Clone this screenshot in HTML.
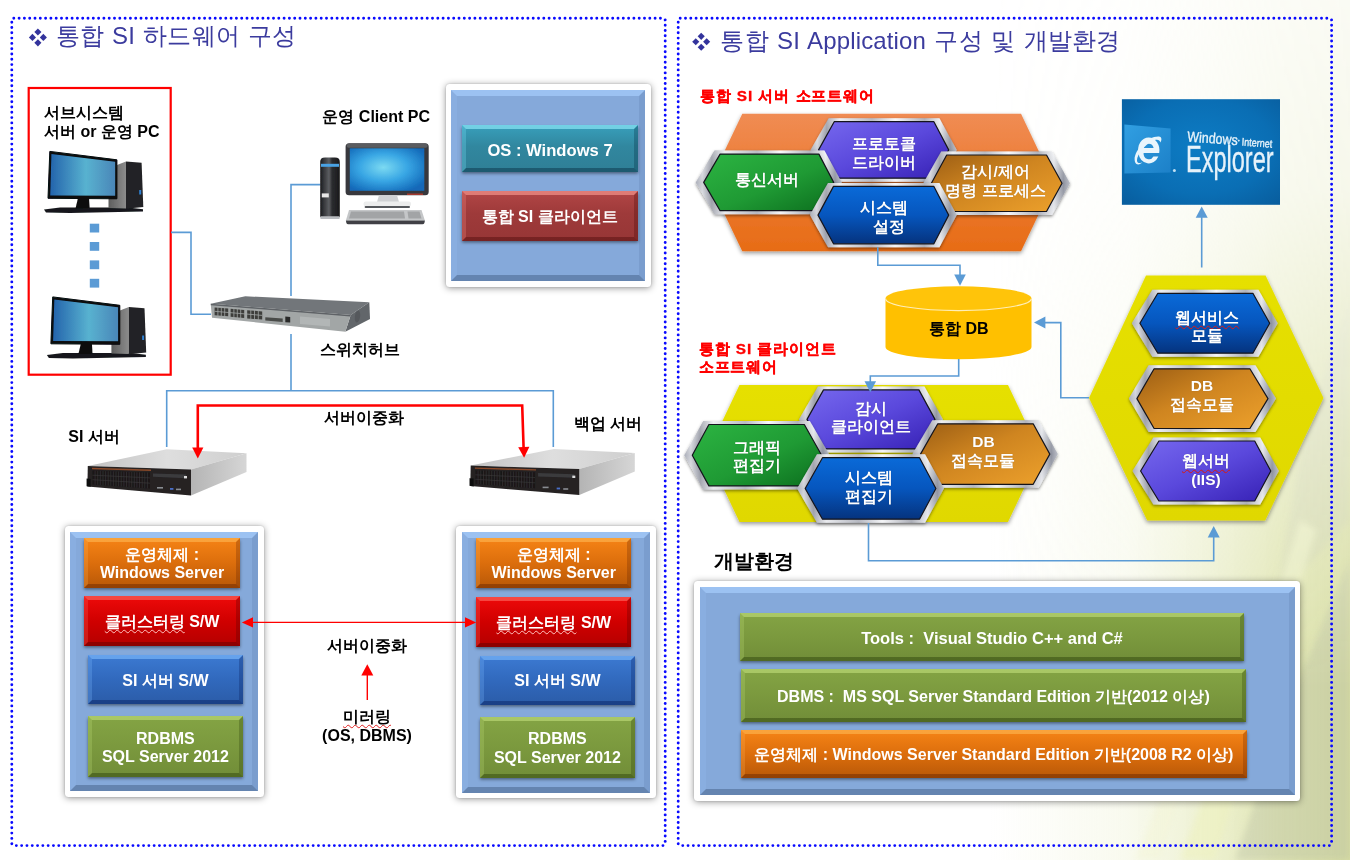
<!DOCTYPE html>
<html lang="ko"><head><meta charset="utf-8"><title>통합 SI 구성</title>
<style>
html,body{margin:0;padding:0}
body{width:1350px;height:860px;position:relative;overflow:hidden;background:#fff;font-family:"Liberation Sans",sans-serif}
svg.gfx{position:absolute;left:0;top:0}
.t{position:absolute;white-space:nowrap;line-height:1.18;letter-spacing:0}
.hx{color:#fff;font-weight:bold;text-align:center;transform:translate(-50%,-50%);line-height:18.6px;text-shadow:0 0 1px rgba(0,0,0,.25)}
.sq{text-decoration:underline wavy #e02020 1px;text-underline-offset:2px}
.red .sq{text-decoration-color:#ffc4c0}
.pn{position:absolute;box-sizing:border-box;background:#fff;border-radius:3.5px;padding:5.6px;box-shadow:0 1px 7px rgba(0,0,0,.42),0 0 2px rgba(0,0,0,.18)}
.pi{width:100%;height:100%;box-sizing:border-box;background:#85a9da;
border-style:solid;border-width:6px;border-color:#9cc2f2 #7a9dce #6484b0 #89aee0}
.bx{position:absolute;box-sizing:border-box;color:#fff;font-weight:bold;display:flex;align-items:center;justify-content:center;text-align:center;line-height:18.6px;white-space:nowrap;
box-shadow:0 1.5px 3px rgba(0,0,0,.45)}
.bx>span{display:block;position:relative;top:1.5px}
.bx:before{content:"";position:absolute;left:0;top:0;right:0;bottom:0;box-sizing:border-box;border-style:solid;border-width:4.5px;pointer-events:none}
.teal{background:linear-gradient(#38a0bc,#31879f 45%,#2f7f96)} .teal:before{border-color:rgba(150,240,255,.62) rgba(0,40,60,.28) rgba(0,30,50,.38) rgba(120,220,245,.3)}
.dred{background:linear-gradient(#b24646,#9e3a3a 45%,#973636)} .dred:before{border-color:rgba(255,160,150,.6) rgba(60,0,0,.26) rgba(60,0,0,.36) rgba(255,150,140,.26)}
.org{background:linear-gradient(#f68416,#dc6e0c 50%,#b85808)} .org:before{border-color:rgba(255,190,90,.55) rgba(90,30,0,.25) rgba(90,30,0,.4) rgba(255,180,90,.25)}
.red{background:linear-gradient(#ee0a0a,#d00000 50%,#b40000)} .red:before{border-color:rgba(255,120,110,.55) rgba(80,0,0,.28) rgba(80,0,0,.4) rgba(255,110,100,.26)}
.blu{background:linear-gradient(#3c7ad2,#3169bd 50%,#2b5ca8)} .blu:before{border-color:rgba(130,190,255,.6) rgba(0,20,80,.26) rgba(0,20,80,.38) rgba(120,180,250,.28)}
.grn{background:linear-gradient(#84a444,#7b993e 50%,#718d38)} .grn:before{border-color:rgba(200,230,130,.55) rgba(30,50,0,.25) rgba(30,50,0,.38) rgba(190,220,120,.26)}
</style></head>
<body>
<svg class="gfx" width="1350" height="860" viewBox="0 0 1350 860">
<defs>
<linearGradient id="metal" x1="0" y1="0" x2="1" y2="0">
<stop offset="0" stop-color="#b9bcc5"/><stop offset=".045" stop-color="#f4f5f7"/><stop offset=".11" stop-color="#777b88"/>
<stop offset=".2" stop-color="#e4e6ea"/><stop offset=".42" stop-color="#8b8f9c"/><stop offset=".58" stop-color="#f6f7f9"/>
<stop offset=".78" stop-color="#7c808d"/><stop offset=".89" stop-color="#eceef1"/><stop offset=".955" stop-color="#858a96"/><stop offset="1" stop-color="#d4d7dd"/>
</linearGradient>
<linearGradient id="metal2" x1="0" y1="0" x2="0" y2="1">
<stop offset="0" stop-color="#ffffff"/><stop offset=".5" stop-color="#9a9daa"/><stop offset="1" stop-color="#f5f5f8"/>
</linearGradient>
<linearGradient id="gPurple" x1="0" y1="0" x2="1" y2="1"><stop offset="0" stop-color="#7668ee"/><stop offset=".5" stop-color="#5a48dc"/><stop offset="1" stop-color="#3620b4"/></linearGradient>
<linearGradient id="gGreen" x1="0" y1="0" x2="1" y2="1"><stop offset="0" stop-color="#2cb442"/><stop offset=".55" stop-color="#1f9a34"/><stop offset="1" stop-color="#0c6e1e"/></linearGradient>
<linearGradient id="gBrown" x1="0" y1="0" x2="1" y2="1"><stop offset="0" stop-color="#9c5e14"/><stop offset=".45" stop-color="#cf8520"/><stop offset="1" stop-color="#eda12c"/></linearGradient>
<linearGradient id="gBlue" x1="0" y1="0" x2="0" y2="1"><stop offset="0" stop-color="#0a6ad8"/><stop offset=".5" stop-color="#0656be"/><stop offset="1" stop-color="#05337e"/></linearGradient>
<linearGradient id="gOrangeBig" x1="0" y1="0" x2="0" y2="1"><stop offset="0" stop-color="#f08c54"/><stop offset=".5" stop-color="#ec7a30"/><stop offset="1" stop-color="#e76c16"/></linearGradient>
<linearGradient id="gYellowBig" x1="0" y1="0" x2="0" y2="1"><stop offset="0" stop-color="#e6e000"/><stop offset="1" stop-color="#e0d800"/></linearGradient>
<linearGradient id="gScreenL" x1="0" y1="0" x2="1" y2="0"><stop offset="0" stop-color="#2464ac"/><stop offset=".55" stop-color="#58b2d0"/><stop offset="1" stop-color="#4a86b8"/></linearGradient>
<radialGradient id="gScreenC" cx=".45" cy=".45" r=".65"><stop offset="0" stop-color="#7cdaf2"/><stop offset=".5" stop-color="#38a6e4"/><stop offset="1" stop-color="#1268b8"/></radialGradient>
<linearGradient id="gTower" x1="0" y1="0" x2="1" y2="0"><stop offset="0" stop-color="#1b1b1e"/><stop offset=".45" stop-color="#5c5e62"/><stop offset=".6" stop-color="#2c2d30"/><stop offset="1" stop-color="#18181a"/></linearGradient>
<linearGradient id="gTowerSide" x1="0" y1="0" x2="1" y2="0"><stop offset="0" stop-color="#5e5e5e"/><stop offset="1" stop-color="#8c8c8c"/></linearGradient>
<linearGradient id="gSrvTop" x1="0" y1="0" x2="1" y2="0"><stop offset="0" stop-color="#c2c2c2"/><stop offset=".5" stop-color="#dedede"/><stop offset="1" stop-color="#cfcfcf"/></linearGradient>
<linearGradient id="gSrvSide" x1="0" y1="0" x2="1" y2="0"><stop offset="0" stop-color="#b4b4b4"/><stop offset="1" stop-color="#d6d6d6"/></linearGradient>
<linearGradient id="gTile" x1="0" y1="0" x2="1" y2="1"><stop offset="0" stop-color="#319fe2"/><stop offset="1" stop-color="#1c80c8"/></linearGradient>
<radialGradient id="gIE" cx=".5" cy=".45" r=".75"><stop offset="0" stop-color="#0d7cc4"/><stop offset=".6" stop-color="#0a6eb4"/><stop offset="1" stop-color="#085c9c"/></radialGradient>
<linearGradient id="gDB" x1="0" y1="0" x2="1" y2="0"><stop offset="0" stop-color="#ffc000"/><stop offset="1" stop-color="#ffbe00"/></linearGradient>
<filter id="hs" x="-10%" y="-10%" width="120%" height="130%"><feDropShadow dx="0" dy="1.5" stdDeviation="1.5" flood-color="#000" flood-opacity=".45"/></filter>
<filter id="bigs" x="-5%" y="-5%" width="110%" height="115%"><feDropShadow dx="0" dy="2" stdDeviation="2" flood-color="#000" flood-opacity=".4"/></filter>
<filter id="blur1"><feGaussianBlur stdDeviation=".5"/></filter>
<filter id="blur2"><feGaussianBlur stdDeviation=".35"/></filter>
</defs>
<defs>
<linearGradient id="bgH" gradientUnits="userSpaceOnUse" x1="990" y1="0" x2="1350" y2="0">
<stop offset="0" stop-color="#e2e8b4" stop-opacity="0"/><stop offset=".38" stop-color="#e2e8b4" stop-opacity=".22"/>
<stop offset=".6" stop-color="#dfe5ae" stop-opacity=".55"/><stop offset=".8" stop-color="#dbe1a6" stop-opacity=".85"/><stop offset="1" stop-color="#d6dca0" stop-opacity=".97"/></linearGradient>
<linearGradient id="bgV" gradientUnits="userSpaceOnUse" x1="0" y1="0" x2="0" y2="860">
<stop offset="0" stop-color="#fff" stop-opacity=".12"/><stop offset=".22" stop-color="#fff" stop-opacity=".22"/>
<stop offset=".5" stop-color="#fff" stop-opacity=".6"/><stop offset=".8" stop-color="#fff" stop-opacity="1"/><stop offset="1" stop-color="#fff" stop-opacity="1"/></linearGradient>
<mask id="bgM" maskUnits="userSpaceOnUse" x="0" y="0" width="1350" height="860"><rect x="980" y="0" width="370" height="860" fill="url(#bgV)"/></mask>
<filter id="bgblur" x="-20%" y="-20%" width="140%" height="140%"><feGaussianBlur stdDeviation="3"/></filter>
</defs>
<g mask="url(#bgM)">
<rect x="990" y="0" width="360" height="860" fill="url(#bgH)"/>
<g filter="url(#bgblur)">
<polygon points="1350,560 1290,700 1235,860 1350,860" fill="#b4baa0" opacity=".34"/>
<polygon points="1350,300 1305,430 1275,600 1350,520" fill="#c2c8ae" opacity=".3"/>
<polygon points="1180,860 1240,700 1262,712 1215,860" fill="#eef2c0" opacity=".6"/>
<polygon points="1262,640 1300,520 1316,530 1280,650" fill="#f2f5c8" opacity=".55"/>
<polygon points="1135,860 1175,760 1190,770 1160,860" fill="#f4f6d8" opacity=".5"/>
</g></g>
<g fill="none" stroke="#0a0aff" stroke-width="2.9" stroke-linecap="round" stroke-dasharray="0.01 5.29">
<rect x="11.8" y="18.2" width="653.4" height="827.4" rx="2"/>
<rect x="678.2" y="18.2" width="653.4" height="827.4" rx="2"/>
</g>
<g fill="#33339c"><polygon points="37.90,28.40 41.45,31.95 37.90,35.50 34.35,31.95"/><polygon points="32.45,33.85 36.00,37.40 32.45,40.95 28.90,37.40"/><polygon points="43.35,33.85 46.90,37.40 43.35,40.95 39.80,37.40"/><polygon points="37.90,39.30 41.45,42.85 37.90,46.40 34.35,42.85"/></g>
<g fill="#33339c"><polygon points="701.20,32.80 704.75,36.35 701.20,39.90 697.65,36.35"/><polygon points="695.75,38.25 699.30,41.80 695.75,45.35 692.20,41.80"/><polygon points="706.65,38.25 710.20,41.80 706.65,45.35 703.10,41.80"/><polygon points="701.20,43.70 704.75,47.25 701.20,50.80 697.65,47.25"/></g>
<rect x="28.7" y="88" width="142" height="286.7" fill="none" stroke="#ff0000" stroke-width="2.2"/>
<g fill="none" stroke="#5b9bd5" stroke-width="1.6">
<polyline points="171,232.4 191,232.4 191,314.3 211,314.3"/>
<polyline points="320.5,184.6 291,184.6 291,296"/>
<polyline points="291,334 291,390.7"/>
<polyline points="166.7,447 166.7,390.7 553.3,390.7 553.3,447"/>
</g>
<g transform="translate(0,0)" filter="url(#blur2)"><polygon points="44,209.6 60,207.6 128,207.6 143,209.2 143,211.4 70,213 46,212.6" fill="#15191c"/><polygon points="108.5,198 117,165 126,161.4 126,208.6 108.5,208" fill="url(#gTowerSide)"/><polygon points="126,161.4 141.6,162.8 143.3,207 126,208.8" fill="#232325"/><rect x="139.2" y="190" width="2" height="4.5" fill="#2f7fd0"/><polygon points="78,198 89,198 89.6,208 75.5,208.4" fill="#0a0a0a"/><polygon points="49.8,151.4 116.9,159.8 116.9,198.8 48,198.3" fill="#07080a" stroke="#07080a" stroke-width="1" stroke-linejoin="round"/><polygon points="51.4,154 115.2,161.8 115.2,195.8 50.2,195.4" fill="url(#gScreenL)"/></g>
<g transform="translate(2.9,145.5)" filter="url(#blur2)"><polygon points="44,209.6 60,207.6 128,207.6 143,209.2 143,211.4 70,213 46,212.6" fill="#15191c"/><polygon points="108.5,198 117,165 126,161.4 126,208.6 108.5,208" fill="url(#gTowerSide)"/><polygon points="126,161.4 141.6,162.8 143.3,207 126,208.8" fill="#232325"/><rect x="139.2" y="190" width="2" height="4.5" fill="#2f7fd0"/><polygon points="78,198 89,198 89.6,208 75.5,208.4" fill="#0a0a0a"/><polygon points="49.8,151.4 116.9,159.8 116.9,198.8 48,198.3" fill="#07080a" stroke="#07080a" stroke-width="1" stroke-linejoin="round"/><polygon points="51.4,154 115.2,161.8 115.2,195.8 50.2,195.4" fill="url(#gScreenL)"/></g>
<rect x="89.8" y="223.7" width="9.4" height="8.8" fill="#5b9bd5"/>
<rect x="89.8" y="242" width="9.4" height="8.8" fill="#5b9bd5"/>
<rect x="89.8" y="260.4" width="9.4" height="8.8" fill="#5b9bd5"/>
<rect x="89.8" y="278.8" width="9.4" height="8.8" fill="#5b9bd5"/>
<g filter="url(#blur2)">
<path d="M320.2,162 Q320.2,157.6 325,157.6 L335,157.6 Q339.8,157.6 339.8,162 L339.8,217 L320.2,217 Z" fill="url(#gTower)"/>
<rect x="320.2" y="216.2" width="19.6" height="2.8" rx="1" fill="#b9bcc0"/>
<rect x="321" y="163.8" width="18" height="3" fill="#4aa2e4"/>
<rect x="321.8" y="193.4" width="7" height="4" fill="#e8e8e8"/>
<rect x="345.6" y="143.3" width="83.1" height="52" rx="3.5" fill="#38393c"/>
<rect x="346.6" y="143.8" width="81.1" height="4" rx="2" fill="#5a5c60"/>
<rect x="349.8" y="148.3" width="74.5" height="42.5" fill="url(#gScreenC)"/>
<rect x="407" y="193.6" width="16" height="1.2" fill="#c0392b"/>
<polygon points="379,195.3 397,195.3 399,202 377,202" fill="#d0d2d4"/>
<rect x="363.6" y="201.6" width="47.4" height="5" rx="2" fill="#eceded"/>
<rect x="364.6" y="206" width="45.4" height="2" rx="1" fill="#55585c"/>
<polygon points="349,210 421.5,210 424.9,220.5 345.9,220.5" fill="#c4c6c8"/>
<polygon points="351,211.5 404,211.5 405,218.5 349,218.5" fill="#a2a4a6"/>
<polygon points="407.5,211.5 419.5,211.5 421.5,218.5 408.5,218.5" fill="#a2a4a6"/>
<path d="M345.9,220.5 L424.9,220.5 L424.4,223 Q424,224.2 422.5,224.2 L348.3,224.2 Q346.8,224.2 346.4,223 Z" fill="#3f4145"/>
</g>
<g filter="url(#blur2)">
<polygon points="210.7,303.7 245.3,296.3 369.3,302.3 350.7,315" fill="#72767a"/>
<polygon points="350.7,315 369.3,302.3 370,319 345.3,331.7" fill="#62666a"/>
<polygon points="210.7,303.7 350.7,315 345.3,331.7 212,317.7" fill="#a2a6a6"/>
<polygon points="210.7,303.7 350.7,315 350.4,316.4 210.9,305.2" fill="#5e6266"/>
<polygon points="214.6,307.4 228.2,308.5 228.2,316.3 214.6,315.2" fill="#3c3d3a"/>
<polygon points="230.6,308.8 244.2,309.9 244.2,317.9 230.6,316.8" fill="#3c3d3a"/>
<polygon points="247.2,310.2 262.2,311.4 262.2,319.6 247.2,318.4" fill="#3c3d3a"/>
<g stroke="#a2a6a6" stroke-width=".8">
<line x1="214.6" y1="311.3" x2="262.2" y2="315.4"/>
<line x1="217.9" y1="306.7" x2="217.9" y2="316.7"/>
<line x1="221.3" y1="306.9" x2="221.3" y2="316.9"/>
<line x1="224.7" y1="307.2" x2="224.7" y2="317.2"/>
<line x1="233.9" y1="307.9" x2="233.9" y2="317.9"/>
<line x1="237.3" y1="308.2" x2="237.3" y2="318.2"/>
<line x1="240.7" y1="308.5" x2="240.7" y2="318.5"/>
<line x1="250.8" y1="309.3" x2="250.8" y2="319.3"/>
<line x1="254.5" y1="309.6" x2="254.5" y2="319.6"/>
<line x1="258.3" y1="309.9" x2="258.3" y2="319.9"/>
</g>
<polygon points="265.3,317.2 282.7,318.6 282.7,322 265.3,320.6" fill="#4a4b48"/>
<polygon points="285.3,316.6 290.2,317 290.2,322.6 285.3,322.2" fill="#2a2b2a"/>
<polygon points="300,316.5 330,319 330,326.5 300,324" fill="#b2b6b6"/>
<ellipse cx="357.5" cy="316.5" rx="2.6" ry="6" fill="#54585c" transform="rotate(8 357.5 316.5)"/>
</g>
<g transform="translate(0,0)" filter="url(#blur2)"><polygon points="87.8,466 166.7,449.3 246.5,453.3 191,469.4" fill="url(#gSrvTop)"/><polygon points="191,469.4 246.5,453.3 246.5,472 191,495.4" fill="url(#gSrvSide)"/><polygon points="87.8,466 191,469.4 191,495.4 87.4,486.4" fill="#252223"/><polygon points="86.6,478.6 90.8,479 90.8,486.8 86.6,486.2" fill="#111"/><polygon points="92,467.8 151.0,469.6 151.0,471 92,469.2" fill="#8a4a2a"/><polygon points="92.5,470.6 150.0,472.6 150.0,488.6 92.5,484.4" fill="#1a1819"/><g stroke="#3c393a" stroke-width=".6"><line x1="95.1" y1="470.7" x2="95.1" y2="484.6"/><line x1="97.7" y1="470.8" x2="97.7" y2="484.8"/><line x1="100.3" y1="470.9" x2="100.3" y2="485.0"/><line x1="103.0" y1="471.0" x2="103.0" y2="485.2"/><line x1="105.6" y1="471.1" x2="105.6" y2="485.4"/><line x1="108.2" y1="471.1" x2="108.2" y2="485.5"/><line x1="110.8" y1="471.2" x2="110.8" y2="485.7"/><line x1="113.4" y1="471.3" x2="113.4" y2="485.9"/><line x1="116.0" y1="471.4" x2="116.0" y2="486.1"/><line x1="118.6" y1="471.5" x2="118.6" y2="486.3"/><line x1="121.2" y1="471.6" x2="121.2" y2="486.5"/><line x1="123.9" y1="471.7" x2="123.9" y2="486.7"/><line x1="126.5" y1="471.8" x2="126.5" y2="486.9"/><line x1="129.1" y1="471.9" x2="129.1" y2="487.1"/><line x1="131.7" y1="472.0" x2="131.7" y2="487.3"/><line x1="134.3" y1="472.1" x2="134.3" y2="487.5"/><line x1="136.9" y1="472.2" x2="136.9" y2="487.6"/><line x1="139.5" y1="472.2" x2="139.5" y2="487.8"/><line x1="142.2" y1="472.3" x2="142.2" y2="488.0"/><line x1="144.8" y1="472.4" x2="144.8" y2="488.2"/><line x1="147.4" y1="472.5" x2="147.4" y2="488.4"/><line x1="92.5" y1="475.2" x2="150.0" y2="477.9"/><line x1="92.5" y1="479.7" x2="150.0" y2="483.2"/></g><polygon points="153.0,473.4 186,474.6 186,478.2 153.0,476.8" fill="#3a3a3d"/><rect x="157.0" y="487" width="6" height="1.6" fill="#8a8d92"/><rect x="170.0" y="488" width="3.4" height="1.8" fill="#4a6ec8"/><rect x="176.0" y="488.6" width="5" height="1.6" fill="#8a8d92"/><rect x="184" y="476" width="3" height="2.4" fill="#ddd"/></g>
<g transform="translate(382.9,-0.4)" filter="url(#blur2)"><polygon points="87.8,466 171.01999999999998,449.3 251.9,453.3 196.4,469.4" fill="url(#gSrvTop)"/><polygon points="196.4,469.4 251.9,453.3 251.9,472 196.4,495.4" fill="url(#gSrvSide)"/><polygon points="87.8,466 196.4,469.4 196.4,495.4 87.4,486.4" fill="#252223"/><polygon points="86.6,478.6 90.8,479 90.8,486.8 86.6,486.2" fill="#111"/><polygon points="92,467.8 153.16,469.6 153.16,471 92,469.2" fill="#8a4a2a"/><polygon points="92.5,470.6 152.16,472.6 152.16,488.6 92.5,484.4" fill="#1a1819"/><g stroke="#3c393a" stroke-width=".6"><line x1="95.2" y1="470.7" x2="95.2" y2="484.6"/><line x1="97.9" y1="470.8" x2="97.9" y2="484.8"/><line x1="100.6" y1="470.9" x2="100.6" y2="485.0"/><line x1="103.3" y1="471.0" x2="103.3" y2="485.2"/><line x1="106.1" y1="471.1" x2="106.1" y2="485.4"/><line x1="108.8" y1="471.2" x2="108.8" y2="485.6"/><line x1="111.5" y1="471.3" x2="111.5" y2="485.8"/><line x1="114.2" y1="471.4" x2="114.2" y2="486.0"/><line x1="116.9" y1="471.5" x2="116.9" y2="486.2"/><line x1="119.6" y1="471.5" x2="119.6" y2="486.4"/><line x1="122.3" y1="471.6" x2="122.3" y2="486.6"/><line x1="125.0" y1="471.7" x2="125.0" y2="486.8"/><line x1="127.8" y1="471.8" x2="127.8" y2="487.0"/><line x1="130.5" y1="471.9" x2="130.5" y2="487.2"/><line x1="133.2" y1="472.0" x2="133.2" y2="487.4"/><line x1="135.9" y1="472.1" x2="135.9" y2="487.6"/><line x1="138.6" y1="472.2" x2="138.6" y2="487.8"/><line x1="141.3" y1="472.3" x2="141.3" y2="488.0"/><line x1="144.0" y1="472.4" x2="144.0" y2="488.2"/><line x1="146.7" y1="472.5" x2="146.7" y2="488.4"/><line x1="149.4" y1="472.6" x2="149.4" y2="488.6"/><line x1="92.5" y1="475.2" x2="152.16" y2="477.9"/><line x1="92.5" y1="479.7" x2="152.16" y2="483.2"/></g><polygon points="155.16,473.4 191.4,474.6 191.4,478.2 155.16,476.8" fill="#3a3a3d"/><rect x="159.7" y="487" width="6" height="1.6" fill="#8a8d92"/><rect x="173.78" y="488" width="3.4" height="1.8" fill="#4a6ec8"/><rect x="180.32" y="488.6" width="5" height="1.6" fill="#8a8d92"/><rect x="189.4" y="476" width="3" height="2.4" fill="#ddd"/></g>
<g fill="none" stroke="#ff0000" stroke-width="2.6" stroke-linejoin="miter">
<polyline points="197.8,449 197.8,405.5 522.2,405.5 523.6,448"/>
</g>
<polygon points="192.2,447.6 203.4,447.6 197.8,458.6" fill="#ff0000"/>
<polygon points="518.2,447.2 529.4,446.8 524.1,457.8" fill="#ff0000"/>
<polygon points="709.4,182.8 742.3,113.8 1021.0,113.8 1053.8,182.8 1021.0,251.3 742.3,251.3" fill="url(#gOrangeBig)" filter="url(#bigs)"/>
<polygon points="810.6,149.9 828.7,118.2 939.4,118.2 956.7,149.9 939.4,181.7 828.7,181.7" fill="url(#metal)" filter="url(#hs)"/><polygon points="810.6,149.9 828.7,118.2 939.4,118.2 956.7,149.9 939.4,181.7 828.7,181.7" fill="url(#metal2)" opacity=".42"/><polygon points="818.6,149.9 834.2,121.7 933.9,121.7 948.7,149.9 933.9,178.2 834.2,178.2" fill="url(#gPurple)" stroke="#14141c" stroke-width="1.2" stroke-linejoin="round"/>
<polygon points="695.7,182.4 714.6,150.6 824.4,150.6 841.7,182.4 824.4,214.2 714.6,214.2" fill="url(#metal)" filter="url(#hs)"/><polygon points="695.7,182.4 714.6,150.6 824.4,150.6 841.7,182.4 824.4,214.2 714.6,214.2" fill="url(#metal2)" opacity=".42"/><polygon points="703.7,182.4 720.1,154.1 818.9,154.1 833.7,182.4 818.9,210.7 720.1,210.7" fill="url(#gGreen)" stroke="#14141c" stroke-width="1.2" stroke-linejoin="round"/>
<polygon points="923.4,183.2 941.2,151.5 1052.0,151.5 1070.0,183.2 1052.0,215.0 941.2,215.0" fill="url(#metal)" filter="url(#hs)"/><polygon points="923.4,183.2 941.2,151.5 1052.0,151.5 1070.0,183.2 1052.0,215.0 941.2,215.0" fill="url(#metal2)" opacity=".42"/><polygon points="931.4,183.2 946.7,155.0 1046.5,155.0 1062.0,183.2 1046.5,211.5 946.7,211.5" fill="url(#gBrown)" stroke="#14141c" stroke-width="1.2" stroke-linejoin="round"/>
<polygon points="810.0,215.1 828.0,182.9 939.4,182.9 956.7,215.1 939.4,247.3 828.0,247.3" fill="url(#metal)" filter="url(#hs)"/><polygon points="810.0,215.1 828.0,182.9 939.4,182.9 956.7,215.1 939.4,247.3 828.0,247.3" fill="url(#metal2)" opacity=".42"/><polygon points="818.0,215.1 833.5,186.4 933.9,186.4 948.7,215.1 933.9,243.8 833.5,243.8" fill="url(#gBlue)" stroke="#14141c" stroke-width="1.2" stroke-linejoin="round"/>
<path d="M885.5,298.4 L885.5,347 A73,12.2 0 0 0 1031.5,347 L1031.5,298.4 Z" fill="#ffc000"/>
<ellipse cx="958.5" cy="298.4" rx="73" ry="12.2" fill="#ffc40a"/>
<path d="M885.5,298.4 A73,12.2 0 0 0 1031.5,298.4" fill="none" stroke="#ffeeb8" stroke-width="1.2"/>
<polygon points="707.0,453.5 739.5,385.0 1008.0,385.0 1040.5,453.5 1008.0,522.0 739.5,522.0" fill="url(#gYellowBig)" filter="url(#bigs)"/>
<polygon points="799.0,419.4 818.0,386.4 924.4,386.4 943.0,419.4 924.4,452.4 818.0,452.4" fill="url(#metal)" filter="url(#hs)"/><polygon points="799.0,419.4 818.0,386.4 924.4,386.4 943.0,419.4 924.4,452.4 818.0,452.4" fill="url(#metal2)" opacity=".42"/><polygon points="807.0,419.4 823.5,389.9 918.9,389.9 935.0,419.4 918.9,448.9 823.5,448.9" fill="url(#gPurple)" stroke="#14141c" stroke-width="1.2" stroke-linejoin="round"/>
<polygon points="684.3,455.2 703.4,421.0 809.8,421.0 829.6,455.2 809.8,489.4 703.4,489.4" fill="url(#metal)" filter="url(#hs)"/><polygon points="684.3,455.2 703.4,421.0 809.8,421.0 829.6,455.2 809.8,489.4 703.4,489.4" fill="url(#metal2)" opacity=".42"/><polygon points="692.3,455.2 708.9,424.5 804.3,424.5 821.6,455.2 804.3,485.9 708.9,485.9" fill="url(#gGreen)" stroke="#14141c" stroke-width="1.2" stroke-linejoin="round"/>
<polygon points="912.5,454.1 932.3,420.3 1038.7,420.3 1057.8,454.1 1038.7,487.8 932.3,487.8" fill="url(#metal)" filter="url(#hs)"/><polygon points="912.5,454.1 932.3,420.3 1038.7,420.3 1057.8,454.1 1038.7,487.8 932.3,487.8" fill="url(#metal2)" opacity=".42"/><polygon points="920.5,454.1 937.8,423.8 1033.2,423.8 1049.8,454.1 1033.2,484.3 937.8,484.3" fill="url(#gBrown)" stroke="#14141c" stroke-width="1.2" stroke-linejoin="round"/>
<polygon points="797.2,488.5 817.0,454.2 925.0,454.2 943.9,488.5 925.0,522.7 817.0,522.7" fill="url(#metal)" filter="url(#hs)"/><polygon points="797.2,488.5 817.0,454.2 925.0,454.2 943.9,488.5 925.0,522.7 817.0,522.7" fill="url(#metal2)" opacity=".42"/><polygon points="805.2,488.5 822.5,457.7 919.5,457.7 935.9,488.5 919.5,519.2 822.5,519.2" fill="url(#gBlue)" stroke="#14141c" stroke-width="1.2" stroke-linejoin="round"/>
<polygon points="1089.0,398.0 1146.0,275.6 1265.6,275.6 1323.5,398.0 1265.2,520.5 1147.2,520.5" fill="url(#gYellowBig)" filter="url(#bigs)"/>
<polygon points="1131.9,323.2 1152.3,289.8 1258.4,289.8 1277.7,323.2 1258.4,356.7 1152.3,356.7" fill="url(#metal)" filter="url(#hs)"/><polygon points="1131.9,323.2 1152.3,289.8 1258.4,289.8 1277.7,323.2 1258.4,356.7 1152.3,356.7" fill="url(#metal2)" opacity=".42"/><polygon points="1139.9,323.2 1157.8,293.3 1252.9,293.3 1269.7,323.2 1252.9,353.2 1157.8,353.2" fill="url(#gBlue)" stroke="#14141c" stroke-width="1.2" stroke-linejoin="round"/>
<polygon points="1128.9,398.6 1148.6,365.3 1255.4,365.3 1276.0,398.6 1255.4,432.0 1148.6,432.0" fill="url(#metal)" filter="url(#hs)"/><polygon points="1128.9,398.6 1148.6,365.3 1255.4,365.3 1276.0,398.6 1255.4,432.0 1148.6,432.0" fill="url(#metal2)" opacity=".42"/><polygon points="1136.9,398.6 1154.1,368.8 1249.9,368.8 1268.0,398.6 1249.9,428.5 1154.1,428.5" fill="url(#gBrown)" stroke="#14141c" stroke-width="1.2" stroke-linejoin="round"/>
<polygon points="1132.6,471.0 1153.4,437.5 1260.2,437.5 1278.8,471.0 1260.2,504.5 1153.4,504.5" fill="url(#metal)" filter="url(#hs)"/><polygon points="1132.6,471.0 1153.4,437.5 1260.2,437.5 1278.8,471.0 1260.2,504.5 1153.4,504.5" fill="url(#metal2)" opacity=".42"/><polygon points="1140.6,471.0 1158.9,441.0 1254.7,441.0 1270.8,471.0 1254.7,501.0 1158.9,501.0" fill="url(#gPurple)" stroke="#14141c" stroke-width="1.2" stroke-linejoin="round"/>
<g fill="none" stroke="#5b9bd5" stroke-width="1.6">
<polyline points="877.8,247.3 877.8,265.3 960,265.3 960,276"/>
<polyline points="958.7,359 958.7,376 870.3,376 870.3,383"/>
<polyline points="1089,397.7 1060.8,397.7 1060.8,322.6 1044,322.6"/>
<polyline points="868.5,523 868.5,560.7 1213.7,560.7 1213.7,536"/>
<polyline points="1201.7,267.5 1201.7,216"/>
</g>
<polygon points="954.2,274.4 965.8,274.4 960,285.8" fill="#5b9bd5"/>
<polygon points="864.5,381.2 876.1,381.2 870.3,392.2" fill="#5b9bd5"/>
<polygon points="1034,322.6 1045.4,316.6 1045.4,328.6" fill="#5b9bd5"/>
<polygon points="1213.7,526 1207.7,537.4 1219.7,537.4" fill="#5b9bd5"/>
<polygon points="1201.7,206.4 1195.7,217.8 1207.7,217.8" fill="#5b9bd5"/>
<rect x="1121.9" y="99.2" width="158.1" height="105.6" fill="url(#gIE)"/>
<polygon points="1124.4,124.6 1170.6,128.6 1170.6,172.4 1124.4,173.6" fill="url(#gTile)"/>
<g transform="translate(1148.5,151.2) scale(1.07,1.2)" filter="url(#blur1)">
<path d="M-9.5,1.6 A10,10.6 0 1 1 10,1.4 L-4.6,1.4 A5,5 0 0 0 4.6,4.4 L9.2,4.4 A10,10.6 0 0 1 -9.5,1.6 Z M-4.6,-2.6 L4.8,-2.6 A4.8,4.6 0 0 0 -4.6,-2.6 Z" fill="#e9f5fc"/>
<path d="M-12.4,9.4 C-16,2 -2,-12.6 9.6,-12.2 C12.6,-12 12.6,-9.4 11,-7.2 C10.6,-9.8 7.6,-10.2 3.6,-8.4 C-4,-5 -12,4.6 -10.6,8.6 C-9.8,10.6 -7,10 -5.4,9 C-8,11.6 -11.4,11.6 -12.4,9.4 Z" fill="#e9f5fc"/>
</g>
<circle cx="1174.4" cy="170.4" r="1.5" fill="#bfe0f3"/>
<g fill="#e6f2fa" stroke="#e6f2fa" stroke-width=".35" font-family="Liberation Sans, sans-serif" filter="url(#blur2)">
<text x="1187" y="141.6" font-size="14.6" textLength="50.5" lengthAdjust="spacingAndGlyphs" transform="rotate(4 1187 141.6)">Windows</text>
<text x="1241.4" y="145.6" font-size="11" textLength="30.6" lengthAdjust="spacingAndGlyphs" transform="rotate(4 1241.4 145.6)">Internet</text>
<circle cx="1238.8" cy="140.6" r=".8"/>
<text x="1186" y="171.6" font-size="36.4" textLength="87.6" lengthAdjust="spacingAndGlyphs">Explorer</text>
</g>
</svg>
<div class="t" style="left:55.6px;top:35.8px;font-size:24px;color:#3b3b9e;font-weight:normal;transform:translate(0,-50%);text-align:left;word-spacing:1.2px;letter-spacing:.2px">통합 SI 하드웨어 구성</div>
<div class="t" style="left:720.4px;top:41px;font-size:24px;color:#3b3b9e;font-weight:normal;transform:translate(0,-50%);text-align:left;word-spacing:1.6px;letter-spacing:.14px">통합 SI Application 구성 및 개발환경</div>
<div class="t" style="left:44px;top:123.3px;font-size:16px;color:#000;font-weight:bold;transform:translate(0,-50%);text-align:left;line-height:18.6px">서브시스템<br>서버 or 운영 PC</div>
<div class="t" style="left:376.2px;top:117px;font-size:16px;color:#000;font-weight:bold;transform:translate(-50%,-50%);text-align:center;">운영 Client PC</div>
<div class="t" style="left:359.8px;top:349.6px;font-size:16px;color:#000;font-weight:bold;transform:translate(-50%,-50%);text-align:center;">스위치허브</div>
<div class="t" style="left:94px;top:436.8px;font-size:16px;color:#000;font-weight:bold;transform:translate(-50%,-50%);text-align:center;">SI 서버</div>
<div class="t" style="left:608.2px;top:424px;font-size:16px;color:#000;font-weight:bold;transform:translate(-50%,-50%);text-align:center;">백업 서버</div>
<div class="t" style="left:364.4px;top:418.4px;font-size:16px;color:#000;font-weight:bold;transform:translate(-50%,-50%);text-align:center;">서버이중화</div>
<div class="t" style="left:366.6px;top:645.8px;font-size:16px;color:#000;font-weight:bold;transform:translate(-50%,-50%);text-align:center;">서버이중화</div>
<div class="t" style="left:367px;top:726.6px;font-size:16px;color:#000;font-weight:bold;transform:translate(-50%,-50%);text-align:center;line-height:19.8px"><span class="sq">미러링</span><br>(OS, DBMS)</div>
<div class="pn" style="left:445.5px;top:84px;width:205px;height:202.6px"><div class="pi"></div></div>
<div class="bx teal" style="left:462px;top:124.8px;width:176px;height:47.4px;font-size:16.6px;padding-top:2px;"><span>OS : Windows 7</span></div>
<div class="bx dred" style="left:461.6px;top:191.2px;width:176px;height:50px;font-size:16px;"><span>통합 SI 클라이언트</span></div>
<div class="pn" style="left:64.6px;top:526.2px;width:199px;height:270.6px"><div class="pi"></div></div>
<div class="bx org" style="left:84.2px;top:537.8px;width:155.8px;height:49.8px;font-size:16px;"><span>운영체제 :<br>Windows Server</span></div>
<div class="bx red" style="left:84.2px;top:596.4px;width:155.8px;height:49.6px;font-size:16px;"><span><span class="sq">클러스터링</span> S/W</span></div>
<div class="bx blu" style="left:87.8px;top:654.6px;width:155.2px;height:49.6px;font-size:16px;"><span>SI 서버 S/W</span></div>
<div class="bx grn" style="left:87.8px;top:715.8px;width:155.2px;height:61.6px;font-size:16px;"><span>RDBMS<br>SQL Server 2012</span></div>
<div class="pn" style="left:456.3px;top:526.2px;width:199.5px;height:272px"><div class="pi"></div></div>
<div class="bx org" style="left:476.2px;top:538.4px;width:155.2px;height:49.2px;font-size:16px;"><span>운영체제 :<br>Windows Server</span></div>
<div class="bx red" style="left:476.2px;top:597px;width:155.2px;height:49.6px;font-size:16px;"><span><span class="sq">클러스터링</span> S/W</span></div>
<div class="bx blu" style="left:480px;top:655.6px;width:154.8px;height:49px;font-size:16px;"><span>SI 서버 S/W</span></div>
<div class="bx grn" style="left:480px;top:716.6px;width:154.8px;height:61.8px;font-size:16px;"><span>RDBMS<br>SQL Server 2012</span></div>
<div class="t" style="left:699.6px;top:96.2px;font-size:15.4px;color:#ff0000;font-weight:bold;transform:translate(0,-50%);text-align:left;letter-spacing:.95px;-webkit-text-stroke:.3px #ff0000">통합 SI 서버 소프트웨어</div>
<div class="t" style="left:698.6px;top:358.6px;font-size:15.4px;color:#ff0000;font-weight:bold;transform:translate(0,-50%);text-align:left;line-height:18.8px;letter-spacing:.95px;-webkit-text-stroke:.3px #ff0000">통합 SI 클라이언트<br>소프트웨어</div>
<div class="t" style="left:958.8px;top:329px;font-size:16px;color:#000;font-weight:bold;transform:translate(-50%,-50%);text-align:center;">통합 DB</div>
<div class="t" style="left:713.6px;top:562.4px;font-size:20px;color:#000;font-weight:bold;transform:translate(0,-50%);text-align:left;">개발환경</div>
<div class="t hx" style="left:883.6px;top:154.4px;font-size:15.5px">프로토콜<br>드라이버</div>
<div class="t hx" style="left:767px;top:179.6px;font-size:15.5px">통신서버</div>
<div class="t hx" style="left:995.6px;top:182.4px;font-size:15.5px">감시/제어<br>명령 프로세스</div>
<div class="t hx" style="left:884.4px;top:218px;font-size:15.5px">시스템<br>&nbsp;&nbsp;설정</div>
<div class="t hx" style="left:870.6px;top:418.6px;font-size:15.5px">감시<br>클라이언트</div>
<div class="t hx" style="left:757px;top:457.6px;font-size:15.5px">그래픽<br>편집기</div>
<div class="t hx" style="left:983.4px;top:452.2px;font-size:15.5px">DB<br>접속모듈</div>
<div class="t hx" style="left:869px;top:488.4px;font-size:15.5px">시스템<br>편집기</div>
<div class="t hx" style="left:1207.4px;top:327.6px;font-size:15.5px"><span class="sq">웹서비스</span><br>모듈</div>
<div class="t hx" style="left:1202px;top:396px;font-size:15.5px">DB<br>접속모듈</div>
<div class="t hx" style="left:1206px;top:471.2px;font-size:15.5px"><span class="sq">웹서버</span><br>(IIS)</div>
<div class="pn" style="left:694px;top:581px;width:606.4px;height:219.6px"><div class="pi"></div></div>
<div class="bx grn" style="left:739.6px;top:613.4px;width:504.8px;height:47.2px;font-size:16.5px;"><span>Tools :&nbsp; Visual Studio C++ and C#</span></div>
<div class="bx grn" style="left:741px;top:669px;width:504.8px;height:53px;font-size:16px;padding-top:1px;"><span>DBMS :&nbsp; MS SQL Server Standard Edition 기반(2012 이상)</span></div>
<div class="bx org" style="left:741px;top:729.6px;width:505.8px;height:48.6px;font-size:16px;"><span>운영체제 : Windows Server Standard Edition 기반(2008 R2 이상)</span></div>
<svg class="gfx" width="1350" height="860" viewBox="0 0 1350 860">
<line x1="251" y1="622.4" x2="467" y2="622.4" stroke="#ff0000" stroke-width="1.3"/>
<polygon points="241.8,622.4 253,617.2 253,627.6" fill="#ff0000"/>
<polygon points="476.2,622.4 465,617.2 465,627.6" fill="#ff0000"/>
<line x1="367.3" y1="700" x2="367.3" y2="674" stroke="#ff0000" stroke-width="1.4"/>
<polygon points="367.3,664.2 361.3,675.6 373.3,675.6" fill="#ff0000"/>
</svg>
</body></html>
